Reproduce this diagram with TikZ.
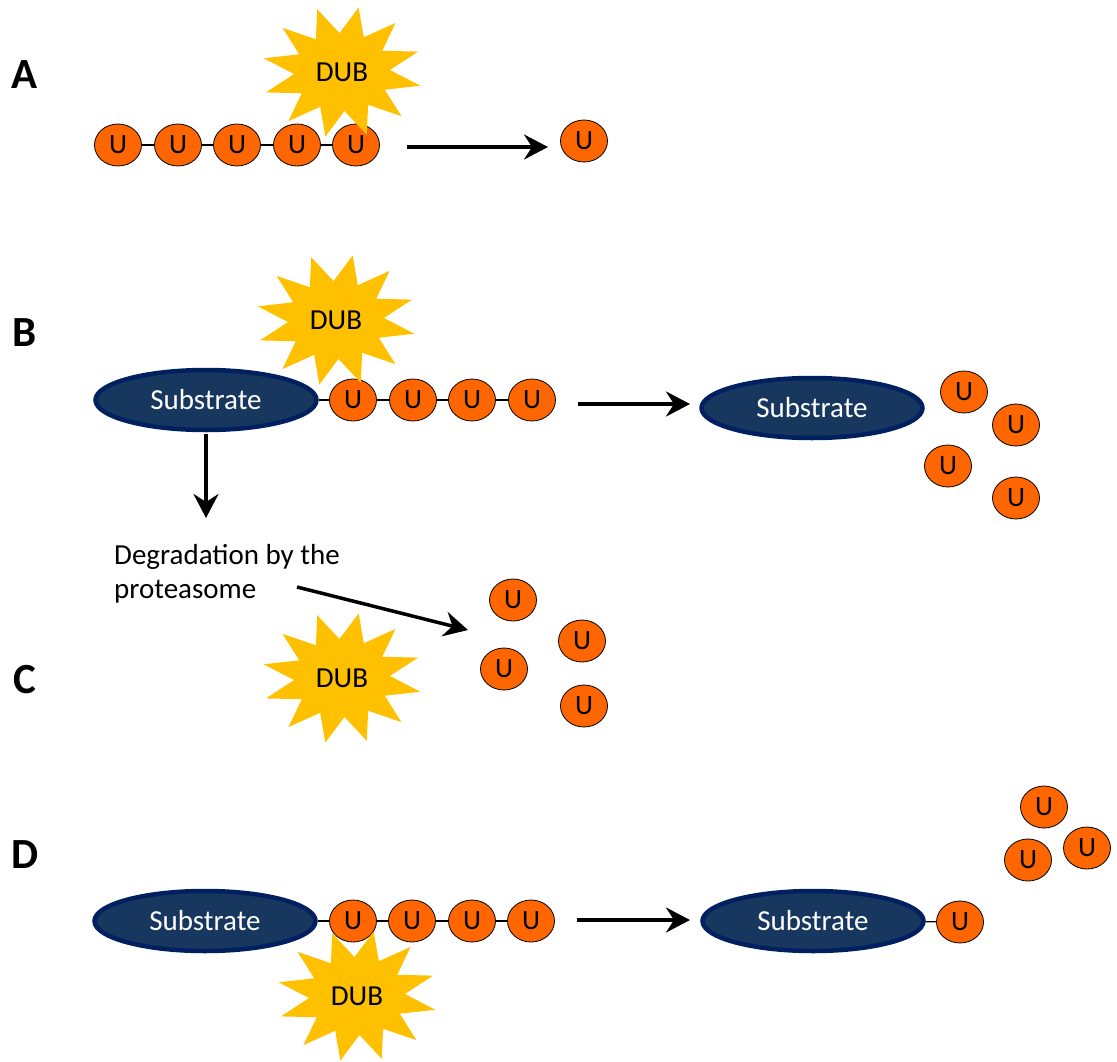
\documentclass[tikz,border=0pt]{standalone}
\usepackage{fontspec}
\setmainfont{Carlito}
\usetikzlibrary{arrows.meta,shapes.geometric}
\definecolor{uorange}{HTML}{FF6600}
\definecolor{dubyellow}{HTML}{FFC000}
\definecolor{subfill}{HTML}{17375E}
\definecolor{subborder}{HTML}{002060}
\newcommand\dubstar[2]{%
  \coordinate (#1) at #2;
  \fill[starfill] ([shift={(-12:80pt and 66pt)}]#1)
    \foreach \k [evaluate=\k as \rx using {mod(\k,2)==0 ? 80 : 48},
                 evaluate=\k as \ry using {mod(\k,2)==0 ? 66 : 39}] in {1,...,23}
      { -- ([shift={(-12+15*\k:\rx pt and \ry pt)}]#1)} -- cycle;
  \node[dubtext] (#1-t) at (#1) {DUB};
}
\begin{document}
\begin{tikzpicture}[x=1pt,y=-1pt,
  ub/.style={ellipse, draw=black, line width=0.8pt, fill=uorange, minimum width=47pt,
    minimum height=42pt, inner sep=0pt, font=\fontsize{28}{28}\selectfont},
  sub/.style={ellipse, draw=subborder, line width=4.5pt, fill=subfill, text=white,
    minimum width=221pt, minimum height=60pt, inner sep=0pt, font=\fontsize{29}{29}\selectfont},
  link/.style={draw=black, line width=1.2pt},
  flow/.style={draw=black, line width=3.5pt, -{Stealth[length=24pt,width=25pt,inset=8pt]}},
  lab/.style={font=\bfseries\fontsize{43}{43}\selectfont},
  dubtext/.style={font=\fontsize{29}{29}\selectfont},
  plain/.style={font=\fontsize{29}{29}\selectfont, inner sep=0pt},
  starfill/.style={fill=dubyellow}]
\useasboundingbox (0,0) rectangle (1117,1061);

% ---------- A ----------
\node[lab] (labA) at (25,75) {A};
\node[ub] (a1) at (118,145) {U};
\node[ub] (a2) at (178,145) {U};
\node[ub] (a3) at (237,145) {U};
\node[ub] (a4) at (297,145) {U};
\node[ub] (a5) at (356,145) {U};
\draw[link] (a1) -- (a2); \draw[link] (a2) -- (a3);
\draw[link] (a3) -- (a4); \draw[link] (a4) -- (a5);
\node[ub] (a6) at (584,141) {U};
\coordinate (aS) at (407,147); \coordinate (aE) at (548,147);
\draw[flow] (aS) -- (aE);
\dubstar{dubA}{(342,72)}

% ---------- B ----------
\node[lab] (labB) at (25,333) {B};
\node[sub] (bs) at (206,400) {Substrate};
\node[ub] (b1) at (353,400) {U};
\node[ub] (b2) at (413,400) {U};
\node[ub] (b3) at (472,400) {U};
\node[ub] (b4) at (532,400) {U};
\draw[link] (bs) -- (b1); \draw[link] (b1) -- (b2);
\draw[link] (b2) -- (b3); \draw[link] (b3) -- (b4);
\coordinate (bS) at (578,404); \coordinate (bE) at (690,404);
\draw[flow] (bS) -- (bE);
\node[sub] (bs2) at (812,408) {Substrate};
\node[ub] (bf1) at (964,392) {U};
\node[ub] (bf2) at (1016,425) {U};
\node[ub] (bf3) at (948,466) {U};
\node[ub] (bf4) at (1016,498) {U};
\dubstar{dubB}{(336,320)}
\coordinate (vS) at (206,434); \coordinate (vE) at (206,518);
\draw[flow] (vS) -- (vE);
\node[plain, anchor=base west] (deg1) at (114,564) {Degradation by the};
\node[plain, anchor=base west] (deg2) at (114,598) {proteasome};
\coordinate (dgS) at (297,587); \coordinate (dgE) at (468,630);
\draw[flow] (dgS) -- (dgE);

% ---------- C ----------
\node[lab] (labC) at (25,680) {C};
\node[ub] (c1) at (513,600) {U};
\node[ub] (c2) at (582,641) {U};
\node[ub] (c3) at (504,669) {U};
\node[ub] (c4) at (584,706) {U};
\dubstar{dubC}{(342,678)}

% ---------- D ----------
\node[lab] (labD) at (25,855) {D};
\node[sub] (ds) at (205,921) {Substrate};
\node[ub] (d1) at (353,921) {U};
\node[ub] (d2) at (412,921) {U};
\node[ub] (d3) at (472,921) {U};
\node[ub] (d4) at (531,921) {U};
\draw[link] (ds) -- (d1); \draw[link] (d1) -- (d2);
\draw[link] (d2) -- (d3); \draw[link] (d3) -- (d4);
\coordinate (dS) at (577,920); \coordinate (dE) at (690,920);
\draw[flow] (dS) -- (dE);
\node[sub] (ds2) at (813,921) {Substrate};
\node[ub] (d5) at (960,922) {U};
\draw[link] (ds2) -- (d5);
\node[ub] (df1) at (1044,807) {U};
\node[ub] (df2) at (1028,860) {U};
\node[ub] (df3) at (1087,848) {U};
\dubstar{dubD}{(357,996)}
\end{tikzpicture}
\end{document}
